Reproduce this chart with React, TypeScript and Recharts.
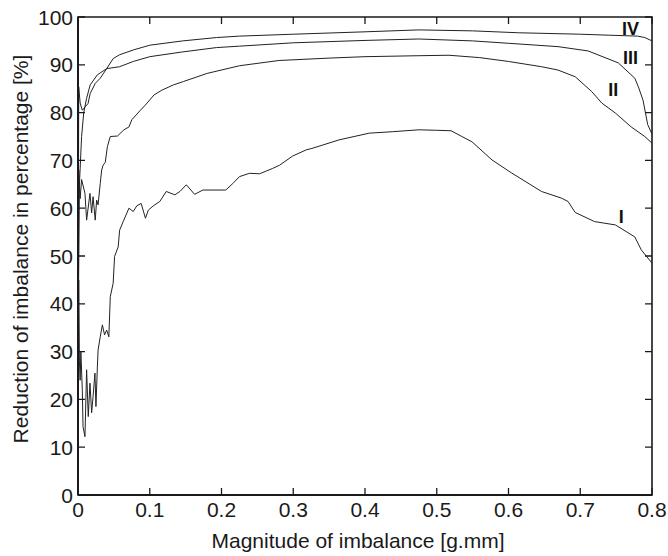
import React from 'react';
import { LineChart, Line, XAxis, YAxis, ReferenceDot, ReferenceArea } from 'recharts';

// Curve values: [magnitude of imbalance (g.mm), reduction (%)]
const curveI: [number, number][] = [
  [0.0005, 5], [0.001, 45], [0.002, 28], [0.003, 24], [0.004, 30], [0.006, 22], [0.007, 14.3],
  [0.0097, 12.2], [0.012, 26.2], [0.0143, 16.4], [0.0167, 23.4], [0.019, 17.2], [0.021, 20.6],
  [0.0236, 25.5], [0.025, 18.5], [0.027, 26.8], [0.028, 30.3], [0.031, 33.1], [0.034, 35.6],
  [0.037, 33.5], [0.04, 34.5], [0.043, 33.1], [0.045, 41.5], [0.049, 44.3], [0.051, 49.9],
  [0.056, 51.9], [0.058, 55.4], [0.063, 57.2], [0.071, 60.0], [0.077, 59.3], [0.082, 60.5],
  [0.088, 61.0], [0.094, 57.9], [0.098, 59.6], [0.105, 60.5], [0.114, 61.4], [0.123, 63.5],
  [0.135, 62.8], [0.142, 63.5], [0.151, 64.9], [0.1625, 62.9], [0.174, 63.8], [0.206, 63.8],
  [0.216, 65.2], [0.225, 66.6], [0.239, 67.3], [0.253, 67.2], [0.271, 68.3], [0.281, 69.0],
  [0.299, 70.9], [0.318, 72.2], [0.326, 72.5], [0.364, 74.3], [0.406, 75.7], [0.438, 76.0],
  [0.475, 76.4], [0.5, 76.3], [0.52, 76.2], [0.535, 75.0], [0.549, 73.9], [0.577, 70.1],
  [0.604, 67.4], [0.646, 63.5], [0.674, 62.1], [0.683, 61.4], [0.693, 59.1], [0.72, 57.2],
  [0.749, 56.5], [0.776, 54.0], [0.785, 51.3], [0.8, 48.5],
];

const curveII: [number, number][] = [
  [0.0005, 20], [0.001, 68], [0.003, 62], [0.005, 66], [0.0097, 63.1], [0.012, 57.5],
  [0.0167, 63.1], [0.019, 59.0], [0.021, 62.4], [0.024, 57.5], [0.026, 61.7], [0.028, 60.7],
  [0.031, 65.2], [0.033, 68.0], [0.035, 69.0], [0.038, 69.6], [0.041, 72.9], [0.045, 75.0],
  [0.055, 75.1], [0.064, 76.4], [0.071, 77.0], [0.075, 78.5], [0.087, 80.5], [0.094, 81.6],
  [0.106, 83.7], [0.117, 84.7], [0.133, 85.8], [0.147, 86.5], [0.18, 88.2], [0.225, 89.8],
  [0.28, 90.9], [0.35, 91.4], [0.4, 91.7], [0.475, 91.9], [0.517, 92.0], [0.56, 91.5],
  [0.6, 90.7], [0.646, 89.6], [0.669, 88.9], [0.693, 87.5], [0.716, 84.4], [0.73, 82.0],
  [0.749, 79.9], [0.771, 77.0], [0.79, 75.0], [0.8, 73.6],
];

const curveIII: [number, number][] = [
  [0.0005, 40], [0.002, 65], [0.005, 75], [0.008, 80], [0.012, 83], [0.017, 85.8],
  [0.027, 87.9], [0.04, 89.2], [0.058, 89.6], [0.077, 90.7], [0.1, 91.7], [0.146, 92.7],
  [0.193, 93.6], [0.225, 93.9], [0.3, 94.6], [0.4, 95.1], [0.475, 95.4], [0.55, 95.0],
  [0.6, 94.5], [0.669, 93.8], [0.711, 92.9], [0.753, 90.4], [0.776, 87.2], [0.781, 85.4],
  [0.7875, 82.6], [0.794, 77.5], [0.8, 75.5],
];

const curveIV: [number, number][] = [
  [0.0005, 50], [0.001, 85.4], [0.003, 82], [0.006, 80.5], [0.01, 81.2], [0.014, 81.9],
  [0.017, 84.0], [0.024, 86.1], [0.031, 87.2], [0.04, 89.2], [0.049, 91.3], [0.058, 92.1],
  [0.077, 93.1], [0.1, 94.1], [0.146, 95.0], [0.193, 95.7], [0.225, 96.0], [0.3, 96.4],
  [0.4, 96.9], [0.475, 97.3], [0.55, 97.1], [0.614, 96.7], [0.7, 96.4], [0.739, 96.2],
  [0.78, 96.0], [0.79, 95.7], [0.8, 95.0],
];

const xTicks = [0, 0.1, 0.2, 0.3, 0.4, 0.5, 0.6, 0.7, 0.8];
const yTicks = [0, 10, 20, 30, 40, 50, 60, 70, 80, 90, 100];
const xDomain: [number, number] = [0, 0.8];
const yDomain: [number, number] = [0, 100];

const curveNames = ['I', 'II', 'III', 'IV'];
const curveLabelAt: [number, number][] = [
  [0.757, 58.2],
  [0.746, 84.8],
  [0.77, 91.6],
  [0.77, 97.5],
];

const xTitle = 'Magnitude of imbalance [g.mm]';
const yTitle = 'Reduction of imbalance in percentage [%]';

const curves = [curveI, curveII, curveIII, curveIV];
const toRows = (c: [number, number][]) => c.map(([x, y]) => ({ x, y }));

const FONT = '"Liberation Sans", Arial, Helvetica, sans-serif';
const INK = '#1a1a1a';
const FS = 21;

// layout of the plot box (pixels), used for the mirrored inward ticks
const PLOT_W = 574;
const PLOT_H = 478;
const TICK_PX = 7;

const BottomTick = (p: any) => {
  const x = Number(p.x);
  const y = Number(p.y);
  const d = `M${x},${y}V${y - TICK_PX}M${x},${y - PLOT_H}V${y - PLOT_H + TICK_PX}`;
  return (
    <g>
      <path d={d} stroke={INK} strokeWidth={1.3} fill="none" />
      <text x={x} y={y + 22} textAnchor="middle" fontSize={FS} fill={INK} fontFamily={FONT}>
        {String(p.payload.value)}
      </text>
    </g>
  );
};
const LeftTick = (p: any) => {
  const x = Number(p.x);
  const y = Number(p.y);
  const d = `M${x},${y}H${x + TICK_PX}M${x + PLOT_W},${y}H${x + PLOT_W - TICK_PX}`;
  return (
    <g>
      <path d={d} stroke={INK} strokeWidth={1.3} fill="none" />
      <text x={x - 5} y={y} dy="0.36em" textAnchor="end" fontSize={FS} fill={INK} fontFamily={FONT}>
        {String(p.payload.value)}
      </text>
    </g>
  );
};

const XTitle = (p: any) => {
  const vb = p.viewBox || { x: 78, y: 495, width: 574, height: 61 };
  return (
    <text x={vb.x + vb.width / 2 - 7} y={vb.y + 53} textAnchor="middle" fontSize={FS} fill={INK} fontFamily={FONT}>
      {xTitle}
    </text>
  );
};
const YTitle = (p: any) => {
  const vb = p.viewBox || { x: 0, y: 17, width: 78, height: 478 };
  const cx = vb.x + 28;
  const cy = vb.y + vb.height / 2 - 7;
  return (
    <text x={cx} y={cy} transform={`rotate(-90, ${cx}, ${cy})`} textAnchor="middle" fontSize={FS} fill={INK} fontFamily={FONT}>
      {yTitle}
    </text>
  );
};

export default function App() {
  return (
    <div style={{ position: 'absolute', left: 0, top: 0, width: 668, height: 556, background: '#fff' }}>
      <LineChart width={668} height={556} margin={{ top: 17, right: 16, bottom: 0, left: 0 }}>
        <XAxis
          type="number"
          dataKey="x"
          domain={xDomain}
          ticks={xTicks}
          orientation="bottom"
          height={61}
          tickSize={0}
          tickMargin={0}
          tickLine={false}
          tick={<BottomTick />}
          axisLine={{ stroke: INK, strokeWidth: 2 }}
          allowDataOverflow
          label={{ content: (p: any) => <XTitle {...p} /> }}
        />
        <YAxis
          type="number"
          domain={yDomain}
          ticks={yTicks}
          orientation="left"
          width={78}
          tickSize={0}
          tickMargin={0}
          tickLine={false}
          tick={<LeftTick />}
          axisLine={{ stroke: INK, strokeWidth: 2 }}
          allowDataOverflow
          label={{ content: (p: any) => <YTitle {...p} /> }}
        />
        <ReferenceArea
          x1={xDomain[0]}
          x2={xDomain[1]}
          y1={yDomain[0]}
          y2={yDomain[1]}
          fill="none"
          stroke={INK}
          strokeWidth={1.6}
          ifOverflow="visible"
        />
        {curves.map((c, i) => (
          <Line
            key={curveNames[i]}
            data={toRows(c)}
            dataKey="y"
            type="linear"
            stroke="#222"
            strokeWidth={1}
            dot={false}
            activeDot={false}
            isAnimationActive={false}
          />
        ))}
        {curveNames.map((n, i) => (
          <ReferenceDot
            key={'lbl' + n}
            x={curveLabelAt[i][0]}
            y={curveLabelAt[i][1]}
            r={0}
            shape={(p: any) => (
              <text x={p.cx} y={p.cy} dy="0.36em" textAnchor="middle" fontSize={18} fontWeight="bold" fill="#111" fontFamily={FONT}>
                {n}
              </text>
            )}
          />
        ))}
      </LineChart>
    </div>
  );
}
